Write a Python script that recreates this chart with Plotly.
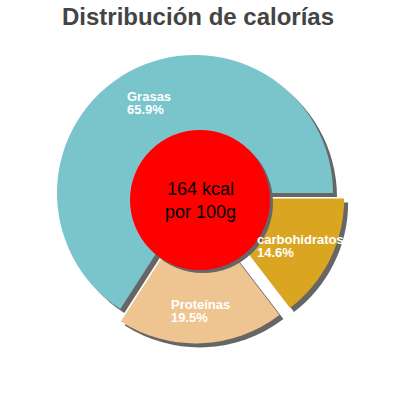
import numpy as np
import plotly.graph_objects as go

# Datos (en sentido horario desde las 3 en punto)
labels = ["carbohidratos", "Proteínas", "Grasas"]
values = [14.6, 19.5, 65.9]
pulls = [0.09, 0.09, 0]
colors = ["#DAA520", "#EEC591", "#7AC4CC"]
kcal_text = "164 kcal<br>por 100g"
title_text = "Distribución de calorías"

W, H = 400, 400
cx, cy = 195, 193          # centro del pastel (px)
R = 138                    # radio (px)
half = R * (1 + max(pulls))
shadow = 4
FONT = "Liberation Sans, Arial"


def dom(dx=0, dy=0):
    return dict(
        x=[(cx + dx - half) / W, (cx + dx + half) / W],
        y=[1 - (cy + dy + half) / H, 1 - (cy + dy - half) / H],
    )


fig = go.Figure()

# sombra
fig.add_trace(go.Pie(
    labels=labels, values=values, pull=pulls, sort=False,
    direction="clockwise", rotation=90,
    marker=dict(colors=["#666666"] * 3, line=dict(width=0)),
    textinfo="none", hoverinfo="skip", showlegend=False,
    domain=dom(shadow, shadow),
))

# pastel
fig.add_trace(go.Pie(
    labels=labels, values=values, pull=pulls, sort=False,
    direction="clockwise", rotation=90,
    marker=dict(colors=colors, line=dict(width=0)),
    textinfo="none", hoverinfo="label+percent", showlegend=False,
    domain=dom(),
))

# etiquetas de las porciones (dos líneas, interlineado corto)
total = sum(values)
start = 0.0
lab_size = 13
for lab, val, p in zip(labels, values, pulls):
    ang = -np.deg2rad(start + val / total * 180)
    start += val / total * 360
    d = 0.755 * R + p * R
    tx = cx + d * np.cos(ang)
    ty = cy - d * np.sin(ang) + 1.5
    left = tx - len(lab) * 6.8 / 2
    for txt, dy in [(lab, -6.5), (f"{val:.1f}%", 6.5)]:
        fig.add_annotation(
            x=left / W, y=1 - (ty + dy) / H, xref="paper", yref="paper",
            xanchor="left", yanchor="middle",
            text=txt, showarrow=False,
            font=dict(family=FONT, size=lab_size, color="white", weight="bold"),
        )

# círculo central
rc, ccx, ccy = 70, 200, 200
fig.add_shape(type="circle", xref="paper", yref="paper",
              x0=(ccx - rc + 3) / W, x1=(ccx + rc + 3) / W,
              y0=1 - (ccy + rc + 3) / H, y1=1 - (ccy - rc + 3) / H,
              fillcolor="#666666", line=dict(width=0))
fig.add_shape(type="circle", xref="paper", yref="paper",
              x0=(ccx - rc) / W, x1=(ccx + rc) / W,
              y0=1 - (ccy + rc) / H, y1=1 - (ccy - rc) / H,
              fillcolor="#FF0000", line=dict(width=0))
fig.add_annotation(x=ccx / W, y=1 - ccy / H, xref="paper", yref="paper",
                   xanchor="center", yanchor="middle",
                   text=kcal_text, showarrow=False,
                   font=dict(family=FONT, size=18, color="black"))

fig.update_layout(
    title=dict(text=title_text, x=198 / W, xanchor="center",
               y=1 - 17 / H, yanchor="middle",
               font=dict(family=FONT, size=24, color="#444444", weight="bold")),
    width=W, height=H,
    margin=dict(l=0, r=0, t=0, b=0),
    paper_bgcolor="white",
    plot_bgcolor="white",
)

# quitar el margen por defecto del body
fig.write_html("out.html", config={"displayModeBar": False},
               post_script="document.body.style.margin='0px';")
